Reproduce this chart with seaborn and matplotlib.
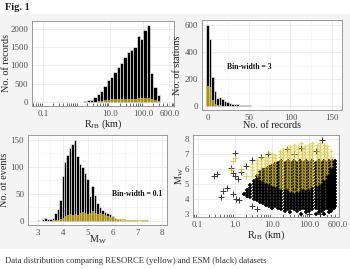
import numpy as np
import pandas as pd
import matplotlib
matplotlib.use("Agg")
import matplotlib.pyplot as plt
import seaborn as sns
from matplotlib.ticker import FixedLocator, FixedFormatter, NullFormatter, LogLocator
from matplotlib.patches import Rectangle

# ---------------- data ----------------
# Panel 1: records vs R_JB (log bins, 0.1 decade wide, lower edges in log10 km)
rjb_log_bin_start = [0.2, 0.3, 0.4, 0.5, 0.6, 0.7, 0.8, 0.9, 1.0, 1.1, 1.2, 1.3,
                     1.4, 1.5, 1.6, 1.7, 1.8, 1.9, 2.0, 2.1, 2.2, 2.3, 2.4]
esm_rjb_counts = [40, 45, 60, 135, 215, 315, 450, 600, 685, 810, 945, 1070,
                  1220, 1370, 1430, 1500, 1800, 1720, 1960, 2100, 800, 400, 200]
resorce_rjb_counts = [0, 0, 0, 0, 20, 40, 60, 70, 75, 75, 75, 80,
                      80, 85, 90, 95, 100, 110, 115, 110, 90, 50, 20]

# Panel 2: stations vs number of records (bin width 3)
records_bin_centers = [0, 3, 6, 9, 12, 15, 18, 21, 24, 27, 30, 33, 36, 39, 42,
                       45, 48, 51, 54, 57, 60]
esm_station_counts = [600, 500, 215, 110, 60, 70, 55, 40, 30, 25, 20, 20, 15,
                      12, 10, 8, 10, 6, 5, 5, 4]
resorce_station_counts = [150, 145, 45, 20, 10, 8, 5, 4, 3, 2, 2, 1, 1, 1, 0,
                          0, 0, 0, 0, 0, 0]

# Panel 3: events vs Mw (bin width 0.1)
mw_bin_centers = [3.0, 3.1, 3.2, 3.3, 3.4, 3.5, 3.6, 3.7, 3.8, 3.9,
                  4.0, 4.1, 4.2, 4.3, 4.4, 4.5, 4.6, 4.7, 4.8, 4.9,
                  5.0, 5.1, 5.2, 5.3, 5.4, 5.5, 5.6, 5.7, 5.8, 5.9,
                  6.0, 6.1, 6.2, 6.3, 6.4, 6.5, 6.6, 6.7, 6.8, 6.9,
                  7.0, 7.1, 7.2, 7.3, 7.4]
esm_event_counts = [1, 0, 4, 5, 4, 4, 5, 15, 22, 38,
                    82, 108, 122, 135, 143, 150, 120, 105, 100, 88,
                    78, 46, 64, 48, 32, 25, 20, 17, 14, 12,
                    8, 5, 3, 3, 2, 2, 1, 1, 1, 1,
                    1, 0, 1, 1, 1]
resorce_event_counts = [0, 0, 0, 0, 0, 0, 1, 1, 2, 3,
                        5, 8, 10, 12, 10, 12, 10, 14, 16, 15,
                        12, 14, 18, 15, 12, 14, 12, 10, 8, 7,
                        6, 5, 4, 4, 3, 3, 2, 2, 2, 1,
                        1, 1, 1, 1, 1]

# Panel 4: Mw vs R_JB scatter, points listed per magnitude row (R_JB in km)
esm_points_by_mw = [
    (3.0, [60, 150, 260]),
    (3.1, [30, 85, 180, 340]),
    (3.2, [22, 47, 100, 220, 380]),
    (3.3, [18, 27, 39, 57, 85, 120, 180, 260, 340, 420]),
    (3.4, [10, 15, 22, 32, 47, 70, 100, 150, 220, 300, 380, 460]),
    (3.5, [8.5, 12, 18, 27, 39, 57, 85, 120, 180, 260, 340, 420, 500]),
    (3.6, [7, 10, 15, 22, 32, 47, 70, 100, 150, 220, 300, 380, 460]),
    (3.7, [5.7, 8.5, 12, 18, 27, 39, 57, 85, 120, 180, 260, 340, 420, 500]),
    (3.8, [4.7, 7, 10, 15, 22, 32, 47, 70, 100, 150, 220, 300, 380, 460]),
    (3.9, [3.9, 5.7, 8.5, 12, 18, 27, 39, 57, 85, 120, 180, 260, 340, 420, 500]),
    (4.0, [3.2, 4.7, 7, 10, 15, 22, 32, 47, 70, 100, 150, 220, 300, 380, 460]),
    (4.1, [2.6, 3.9, 5.7, 8.5, 12, 18, 27, 39, 57, 85, 120, 180, 260, 340, 420, 500]),
    (4.2, [2.2, 3.2, 4.7, 7, 10, 15, 22, 32, 47, 70, 100, 150, 220, 300, 380, 460]),
    (4.3, [1.8, 2.6, 3.9, 5.7, 8.5, 12, 18, 27, 39, 57, 85, 120, 180, 260, 340, 420, 500]),
    (4.4, [2.2, 3.2, 4.7, 7, 10, 15, 22, 32, 47, 70, 100, 150, 220, 300, 380, 460]),
    (4.5, [2.6, 3.9, 5.7, 8.5, 12, 18, 27, 39, 57, 85, 120, 180, 260, 340, 420, 500]),
    (4.6, [2.2, 3.2, 4.7, 7, 10, 15, 22, 32, 47, 70, 100, 150, 220, 300, 380, 460]),
    (4.7, [2.6, 3.9, 5.7, 8.5, 12, 18, 27, 39, 57, 85, 120, 180, 260, 340, 420, 500]),
    (4.8, [3.2, 4.7, 7, 10, 15, 22, 32, 47, 70, 100, 150, 220, 300, 380, 460]),
    (4.9, [2.6, 3.9, 5.7, 8.5, 12, 18, 27, 39, 57, 85, 120, 180, 260, 340, 420, 500]),
    (5.0, [3.2, 4.7, 7, 10, 15, 22, 32, 47, 70, 100, 150, 220, 300, 380, 460]),
    (5.1, [3.9, 5.7, 8.5, 12, 18, 27, 39, 57, 85, 120, 180, 260, 340, 420, 500]),
    (5.2, [3.2, 4.7, 7, 10, 15, 22, 32, 47, 70, 100, 150, 220, 300, 380, 460]),
    (5.3, [3.9, 5.7, 8.5, 12, 18, 27, 39, 57, 85, 120, 180, 260, 340, 420, 500]),
    (5.4, [4.7, 7, 10, 15, 22, 32, 47, 70, 100, 150, 220, 300, 380, 460]),
    (5.5, [3.9, 5.7, 8.5, 12, 18, 27, 39, 57, 85, 120, 180, 260, 340, 420, 500]),
    (5.6, [4.7, 7, 10, 15, 22, 32, 47, 70, 100, 150, 220, 300, 380, 460]),
    (5.7, [5.7, 8.5, 12, 18, 27, 39, 57, 85, 120, 180, 260, 340, 420, 500]),
    (5.8, [4.7, 7, 10, 15, 22, 32, 47, 70, 100, 150, 220, 300, 380, 460]),
    (5.9, [5.7, 8.5, 12, 18, 27, 39, 57, 85, 120, 180, 260, 340, 420, 500]),
    (6.0, [7, 10, 15, 22, 32, 47, 70, 100, 150, 220, 300, 380, 460]),
    (6.1, [8.5, 12, 18, 27, 39, 57, 85, 120, 180, 260, 340, 420, 500]),
    (6.2, [10, 15, 22, 32, 47, 70, 100, 150, 220, 300, 380, 460]),
    (6.3, [12, 18, 27, 39, 57, 85, 120, 180, 260, 340, 420, 500]),
    (6.4, [15, 22, 32, 47, 70, 100, 150, 220, 300, 380, 460]),
    (6.5, [18, 27, 39, 57, 85, 120, 180, 260, 340, 420, 500]),
]
esm_outlier_rjb = [0.28, 0.33, 0.43, 0.47, 0.6, 0.8, 0.9, 1.0, 1.0, 1.2, 1.1,
                   1.3, 2.0, 1.5, 3.0, 5.0, 8.0, 25, 40, 60, 150, 230, 4.0,
                   3.0, 100, 200, 0.9]
esm_outlier_mw = [5.5, 5.65, 4.1, 4.55, 4.7, 6.05, 5.7, 5.5, 7.05, 5.3, 4.0,
                  3.9, 6.2, 5.8, 6.6, 6.8, 7.0, 7.3, 7.0, 7.4, 7.2, 7.95, 3.3,
                  3.5, 2.95, 3.0, 4.3]

resorce_points_by_mw = [
    (7.7, [60, 120, 200]),
    (7.6, [40, 100, 160, 250]),
    (7.5, [30, 50, 80, 120, 200, 300]),
    (7.4, [25, 40, 65, 100, 160, 250]),
    (7.3, [20, 30, 50, 80, 120, 200, 300]),
    (7.2, [16, 25, 40, 65, 100, 160, 250, 380]),
    (7.1, [8, 20, 30, 50, 80, 120, 200, 300]),
    (7.0, [10, 16, 25, 40, 65, 100, 160, 250]),
    (6.9, [12, 20, 30, 50, 80, 120, 200, 300]),
    (6.8, [6.5, 10, 16, 25, 40, 65, 100, 160, 250, 380]),
    (6.7, [5, 8, 12, 20, 30, 50, 80, 120, 200, 300]),
    (6.6, [4, 6.5, 10, 16, 25, 40, 65, 100, 160, 250, 380]),
    (6.5, [5, 8, 12, 20, 30, 50, 80, 120, 200, 300]),
    (6.4, [4, 6.5, 10, 16, 25, 40, 65, 100, 160, 250, 380]),
    (6.3, [3, 5, 8, 12, 20, 30, 50, 80, 120, 200, 300]),
    (6.2, [4, 6.5, 10, 16, 25, 40, 65, 100, 160, 250, 380]),
    (6.1, [3, 5, 8, 12, 20, 30, 50, 80, 120, 200, 300]),
    (6.0, [4, 6.5, 10, 16, 25, 40, 65, 100, 160, 250]),
    (5.9, [3, 5, 8, 12, 20, 30, 50, 80, 120, 200, 300]),
    (5.8, [4, 6.5, 10, 16, 25, 40, 65, 100, 160, 250]),
    (5.7, [3, 5, 8, 12, 20, 30, 50, 80, 120, 200, 300]),
    (5.6, [4, 6.5, 10, 16, 25, 40, 65, 100, 160, 250]),
    (5.5, [3, 5, 8, 12, 20, 30, 50, 80, 120, 200]),
    (5.4, [6.5, 10, 16, 25, 40, 65, 100, 160, 250]),
    (5.3, [5, 8, 12, 20, 30, 50, 80, 120, 200]),
    (5.2, [6.5, 10, 16, 25, 40, 65, 100, 160]),
    (5.1, [8, 12, 20, 30, 50, 80, 120, 200]),
    (5.0, [10, 16, 25, 40, 65, 100, 160]),
    (4.9, [12, 20, 30, 50, 80, 120]),
    (4.8, [16, 25, 40, 65, 100]),
    (4.7, [20, 30, 50, 80]),
    (4.6, [30, 50]),
    (4.5, [40]),
]
resorce_outlier_rjb = [1.0, 0.9, 0.8, 2.0, 1.5]
resorce_outlier_mw = [6.7, 6.5, 5.9, 5.5, 6.0]

rjb_tick_values = [0.1, 10, 100, 600]
rjb_tick_labels = ["0.1", "10.0", "100.0", "600.0"]
rjb_tick_values4 = [0.1, 1, 10, 100, 600]
rjb_tick_labels4 = ["0.1", "1.0", "10.0", "100.0", "600.0"]

caption = "Data distribution comparing RESORCE (yellow) and ESM (black) datasets"

# ---------------- style ----------------
sns.set_theme(style="whitegrid")
plt.rcParams["font.family"] = ["Liberation Serif", "DejaVu Serif"]
plt.rcParams["mathtext.fontset"] = "custom"
plt.rcParams["mathtext.rm"] = "Liberation Serif"
plt.rcParams["mathtext.it"] = "Liberation Serif:italic"
plt.rcParams["mathtext.bf"] = "Liberation Serif:bold"

YEL = "#DCC12E"
W, H = 350, 269
fig = plt.figure(figsize=(W / 100, H / 100), dpi=100)
fig.patch.set_facecolor("white")
fig.patches.append(Rectangle((0, 1 - 249 / H), 1, (249 - 14) / H,
                             transform=fig.transFigure, facecolor="#f4f4f4",
                             edgecolor="none", zorder=-10))


def make_ax(l, r, t, b):
    ax = fig.add_axes([l / W, 1 - b / H, (r - l) / W, (b - t) / H])
    ax.set_facecolor("white")
    for s in ax.spines.values():
        s.set_color("#8a8a8a")
        s.set_linewidth(0.6)
    ax.grid(True, which="major", color="#e6e6e6", linewidth=0.5)
    ax.tick_params(axis="both", which="major", length=2, width=0.5,
                   color="#333333", labelsize=6.3, labelcolor="#4d4d4d", pad=0.8)
    ax.set_axisbelow(True)
    return ax


def style_labels(ax, xl, yl, xcoord, ycoord):
    ax.set_xlabel(xl, fontsize=7.3, color="#222222")
    ax.set_ylabel(yl, fontsize=7.3, color="#222222")
    ax.xaxis.set_label_coords(0.5, xcoord)
    ax.yaxis.set_label_coords(ycoord, 0.5)


def log_minor_ticks(ax):
    ax.xaxis.set_minor_locator(LogLocator(base=10, subs=np.arange(1, 10)))
    ax.xaxis.set_minor_formatter(NullFormatter())
    ax.tick_params(axis="x", which="minor", direction="in", length=2,
                   width=0.5, color="#333333", bottom=True)


# ---- Panel 1 ----
ax1 = make_ax(32, 174, 21, 106)
rjb_centers_km = [10 ** (v + 0.05) for v in rjb_log_bin_start]
rjb_edges_log = rjb_log_bin_start + [rjb_log_bin_start[-1] + 0.1]
sns.histplot(x=rjb_centers_km, weights=esm_rjb_counts, bins=rjb_edges_log,
             log_scale=True, color="black", alpha=1, edgecolor="white",
             linewidth=0.4, ax=ax1)
sns.histplot(x=rjb_centers_km, weights=resorce_rjb_counts, bins=rjb_edges_log,
             log_scale=True, color=YEL, alpha=0.75, edgecolor="none",
             linewidth=0, ax=ax1)
ax1.set_xlim(0.046, 830)
ax1.set_ylim(-105, 2205)
ax1.xaxis.set_major_locator(FixedLocator(rjb_tick_values))
ax1.xaxis.set_major_formatter(FixedFormatter(rjb_tick_labels))
ax1.set_yticks([0, 500, 1000, 1500, 2000])
log_minor_ticks(ax1)
style_labels(ax1, r"R$_{\mathrm{JB}}$ (km)", "No. of records", -0.135, -0.15)

# ---- Panel 2 ----
ax2 = make_ax(202, 342, 20, 110)
rec_edges = [c - 1.5 for c in records_bin_centers] + [records_bin_centers[-1] + 1.5]
sns.histplot(x=records_bin_centers, weights=esm_station_counts, bins=rec_edges,
             color="black", alpha=1, edgecolor="white", linewidth=0.4, ax=ax2)
sns.histplot(x=records_bin_centers, weights=resorce_station_counts, bins=rec_edges,
             color=YEL, alpha=0.75, edgecolor="none", linewidth=0, ax=ax2)
ax2.set_xlim(-6.5, 162)
ax2.set_ylim(-28, 640)
ax2.set_xticks([0, 50, 100, 150])
ax2.set_yticks([0, 200, 400, 600])
ax2.set_xticks([25, 75, 125], minor=True)
ax2.set_yticks([100, 300, 500], minor=True)
ax2.grid(True, which="minor", color="#f0f0f0", linewidth=0.4)
ax2.tick_params(which="minor", length=0)
ax2.text(51, 294, "Bin-width = 3", fontsize=5.5, fontweight="bold",
         ha="center", va="center", color="#111111")
style_labels(ax2, "No. of records", "No. of stations", -0.125, -0.14)

# ---- Panel 3 ----
ax3 = make_ax(28, 167, 135, 225)
mw_edges = [round(c - 0.05, 2) for c in mw_bin_centers] + [mw_bin_centers[-1] + 0.05]
sns.histplot(x=mw_bin_centers, weights=esm_event_counts, bins=mw_edges,
             color="black", alpha=1, edgecolor="white", linewidth=0.4, ax=ax3)
sns.histplot(x=mw_bin_centers, weights=resorce_event_counts, bins=mw_edges,
             color=YEL, alpha=0.75, edgecolor="none", linewidth=0, ax=ax3)
ax3.set_xlim(2.6, 8.2)
ax3.set_ylim(-8, 159)
ax3.set_xticks([3, 4, 5, 6, 7, 8])
ax3.set_yticks([0, 50, 100, 150])
ax3.set_xticks([3.5, 4.5, 5.5, 6.5, 7.5], minor=True)
ax3.set_yticks([25, 75, 125], minor=True)
ax3.grid(True, which="minor", color="#f0f0f0", linewidth=0.4)
ax3.tick_params(which="minor", length=0)
ax3.text(7.0, 50, "Bin-width = 0.1", fontsize=5.5, fontweight="bold",
         ha="center", va="center", color="#111111")
style_labels(ax3, r"M$_{\mathrm{W}}$", "No. of events", -0.1, -0.135)

# ---- Panel 4 ----
ax4 = make_ax(193, 339, 135, 217)
esm_r, esm_m = [], []
for mw, rs in esm_points_by_mw:
    esm_r += rs
    esm_m += [mw] * len(rs)
res_r, res_m = [], []
for mw, rs in resorce_points_by_mw:
    res_r += rs
    res_m += [mw] * len(rs)
esm_df = pd.DataFrame({"rjb": esm_r, "mw": esm_m})
res_df = pd.DataFrame({"rjb": res_r, "mw": res_m})
esm_out_df = pd.DataFrame({"rjb": esm_outlier_rjb, "mw": esm_outlier_mw})
res_out_df = pd.DataFrame({"rjb": resorce_outlier_rjb, "mw": resorce_outlier_mw})
sns.scatterplot(data=esm_df, x="rjb", y="mw", marker="+", s=12, color="black",
                linewidth=1.15, alpha=1, ax=ax4)
sns.scatterplot(data=esm_out_df, x="rjb", y="mw", marker="+", s=14,
                color="#222222", linewidth=0.7, alpha=0.9, ax=ax4)
sns.scatterplot(data=res_df, x="rjb", y="mw", marker="+", s=11, color=YEL,
                linewidth=0.9, alpha=0.7, ax=ax4)
sns.scatterplot(data=res_out_df, x="rjb", y="mw", marker="+", s=14, color=YEL,
                linewidth=0.7, alpha=0.8, ax=ax4)
ax4.set_xscale("log")
ax4.set_xlim(0.075, 640)
ax4.set_ylim(2.78, 8.26)
ax4.xaxis.set_major_locator(FixedLocator(rjb_tick_values4))
ax4.xaxis.set_major_formatter(FixedFormatter(rjb_tick_labels4))
ax4.set_yticks([3, 4, 5, 6, 7, 8])
log_minor_ticks(ax4)
style_labels(ax4, r"R$_{\mathrm{JB}}$ (km)", r"M$_{\mathrm{W}}$", -0.14, -0.05)

# ---- figure texts ----
fig.text(5 / W, 1 - 8 / H, "Fig. 1", fontsize=7.5, fontweight="bold",
         ha="left", va="center", color="#222222")
fig.text(5 / W, 1 - 261 / H, caption, fontsize=6.2, ha="left", va="center",
         color="#333333")

fig.savefig("out.png", dpi=100)
